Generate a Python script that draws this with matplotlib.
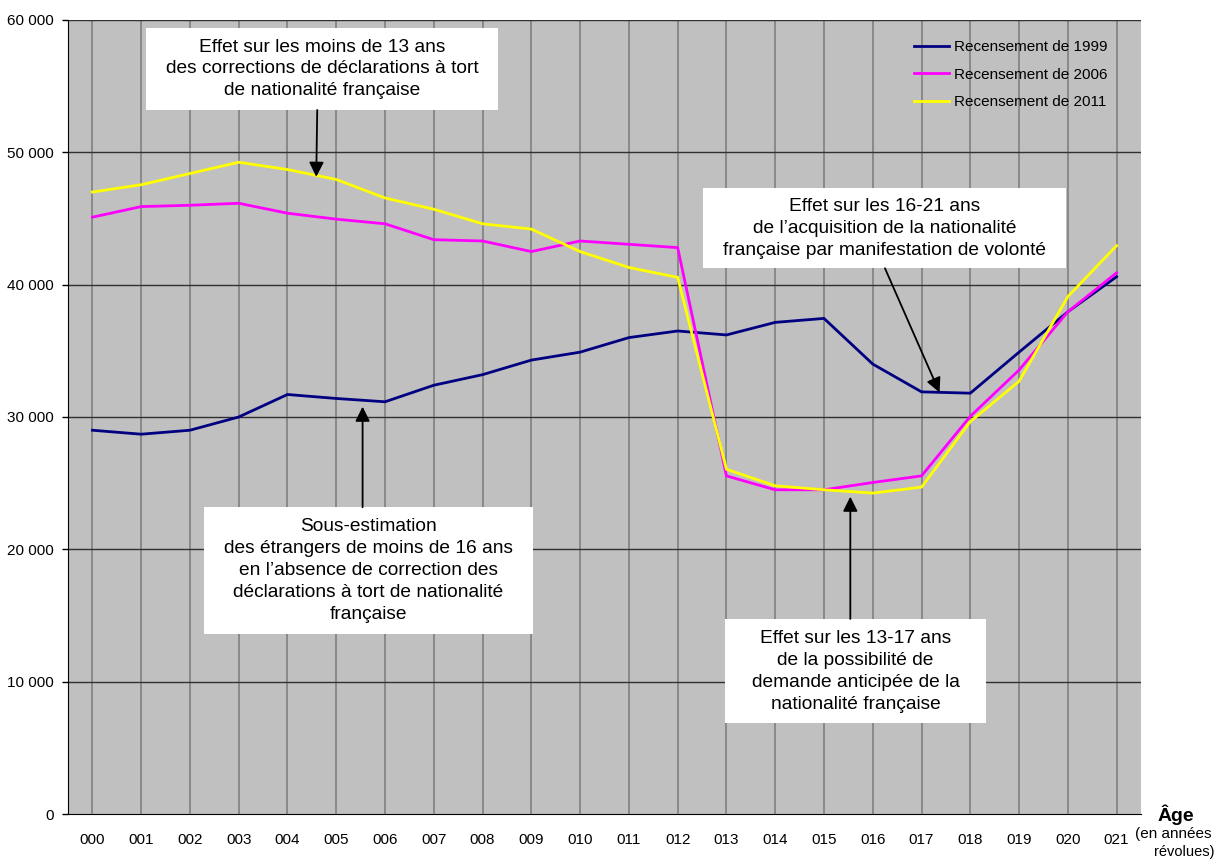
import matplotlib
matplotlib.use("Agg")
import matplotlib.pyplot as plt
from matplotlib.patches import Rectangle
from matplotlib.ticker import FuncFormatter

plt.rcParams['font.family'] = ['Liberation Sans', 'DejaVu Sans']

ages = ["000", "001", "002", "003", "004", "005", "006", "007", "008", "009", "010",
        "011", "012", "013", "014", "015", "016", "017", "018", "019", "020", "021"]

rp1999 = [29000, 28700, 29000, 30000, 31700, 31400, 31150, 32400, 33200, 34300, 34900,
          36000, 36500, 36200, 37150, 37450, 34000, 31900, 31800, 34900, 37950, 40600]
rp2006 = [45100, 45900, 46000, 46150, 45400, 44950, 44600, 43400, 43300, 42500, 43300,
          43050, 42800, 25550, 24500, 24500, 25050, 25550, 30050, 33550, 37950, 40900]
rp2011 = [47000, 47550, 48400, 49250, 48700, 47950, 46550, 45700, 44600, 44200, 42500,
          41300, 40550, 26050, 24800, 24500, 24250, 24700, 29650, 32700, 39100, 42950]

series_labels = ["Recensement de 1999", "Recensement de 2006", "Recensement de 2011"]
series_colors = ["#000080", "#FF00FF", "#FFFF00"]

fig = plt.figure(figsize=(12.19, 8.63), dpi=100)
ax = fig.add_axes([68 / 1219, 1 - 814 / 863, 1073 / 1219, 794 / 863])
ax.set_facecolor("#C0C0C0")

x = list(range(len(ages)))
for vals, lab, col in zip([rp1999, rp2006, rp2011], series_labels, series_colors):
    ax.plot(x, vals, color=col, lw=2.0, label=lab, zorder=3, solid_joinstyle="miter")

ax.set_xlim(-0.5, len(ages) - 0.5)
ax.set_ylim(0, 60000)
ax.set_yticks(range(0, 60001, 10000))
ax.yaxis.set_major_formatter(FuncFormatter(lambda v, p: f"{int(v):,}".replace(",", " ")))
ax.set_xticks(x)
ax.set_xticklabels(ages)

for xi in x:
    ax.axvline(xi, color="#808080", lw=1.2, zorder=1)
for yv in range(10000, 60001, 10000):
    ax.axhline(yv, color="#303030", lw=1.0, zorder=1)

for s in ["top", "right"]:
    ax.spines[s].set_visible(False)
ax.spines["left"].set_color("black")
ax.spines["bottom"].set_color("black")
ax.tick_params(axis="y", length=4, width=1, pad=6, labelsize=11)
ax.tick_params(axis="x", length=0, pad=14, labelsize=11)

leg = ax.legend(loc="upper left", bbox_to_anchor=(0.788, 0.975), frameon=False,
                fontsize=11, borderaxespad=0, borderpad=0, handlelength=2.35,
                handletextpad=0.3, labelspacing=0.9)

# annotation boxes (data coords)
boxes = [
    (1.09, 53200, 8.32, 59400,
     "Effet sur les moins de 13 ans\ndes corrections de déclarations à tort\nde nationalité française",
     (4.61, 53200), (4.59, 48150)),
    (12.51, 41240, 19.97, 47300,
     "Effet sur les 16-21 ans\nde l\u2019acquisition de la nationalité\nfrançaise par manifestation de volonté",
     (16.25, 41240), (17.37, 31850)),
    (2.28, 13600, 9.03, 23180,
     "Sous-estimation\ndes étrangers de moins de 16 ans\nen l\u2019absence de correction des\ndéclarations à tort de nationalité\nfrançaise",
     (5.54, 23180), (5.54, 30780)),
    (12.97, 6850, 18.33, 14740,
     "Effet sur les 13-17 ans\nde la possibilité de\ndemande anticipée de la\nnationalité française",
     (15.54, 14740), (15.54, 23980)),
]
for x0, y0, x1, y1, txt, start, tip in boxes:
    ax.add_patch(Rectangle((x0, y0), x1 - x0, y1 - y0, facecolor="white",
                           edgecolor="none", zorder=4))
    ax.text((x0 + x1) / 2, (y0 + y1) / 2, txt, ha="center", va="center",
            fontsize=13.8, linespacing=1.38, zorder=5)
    ax.annotate("", xy=tip, xytext=start,
                arrowprops=dict(arrowstyle="-|>", color="black", lw=1.3,
                                mutation_scale=22, shrinkA=0, shrinkB=0),
                zorder=5)

fig.text(1176 / 1219, 1 - 815 / 863, "Âge", ha="center", va="center",
         fontsize=14, fontweight="bold")
fig.text(1173 / 1219, 1 - 834 / 863, "(en années", ha="center", va="center", fontsize=11)
fig.text(1184 / 1219, 1 - 852 / 863, "révolues)", ha="center", va="center", fontsize=10.5)

fig.savefig("out.png", dpi=100)
